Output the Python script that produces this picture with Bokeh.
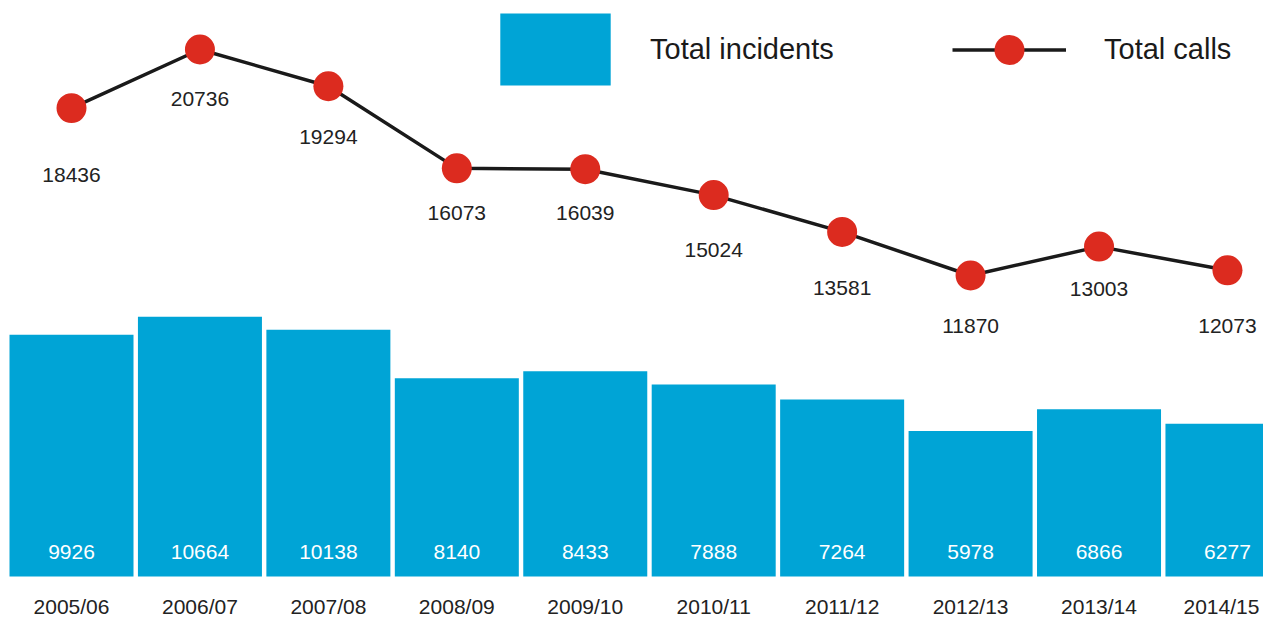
from bokeh.plotting import figure
from bokeh.models import Range1d, Legend, LegendItem, ColumnDataSource
from bokeh.core.properties import value
from bokeh.embed import file_html
from bokeh.resources import INLINE

# ---- data ----
years = ["2005/06", "2006/07", "2007/08", "2008/09", "2009/10",
         "2010/11", "2011/12", "2012/13", "2013/14", "2014/15"]
incidents = [9926, 10664, 10138, 8140, 8433, 7888, 7264, 5978, 6866, 6277]
calls = [18436, 20736, 19294, 16073, 16039, 15024, 13581, 11870, 13003, 12073]

# ---- style: pixel offsets for labels ----
call_label_dy = [67, 50, 51, 45, 44, 55, 56, 51, 42, 56]
year_label_dx = [0, 0, 0, 0, 0, 0, 0, 0, 0, -6]

FONT = value("Liberation Sans")
BLUE = "#00A4D6"
RED = "#DC2B1F"
DARK = "#1A1A1A"
TXT = "#222222"

idx = list(range(len(years)))
src = ColumnDataSource(dict(
    x=idx, year=years, inc=incidents, calls=calls,
    inc_txt=[str(v) for v in incidents],
    calls_txt=[str(v) for v in calls],
    dy=call_label_dy, ydx=year_label_dx,
))

W, H = 1263, 620
yr = Range1d(-1807, 23655)
p = figure(width=W, height=H, output_backend="svg", toolbar_location=None,
           x_range=Range1d(-0.5528, 9.2806), y_range=yr,
           x_axis_location=None, y_axis_location=None,
           min_border=0, outline_line_color=None, tools="")
p.extra_y_ranges = {"calls": Range1d(-1665, 22658)}
p.grid.visible = False
p.background_fill_color = "white"

vb = p.vbar(x="x", top="inc", bottom=0, width=0.9655, source=src,
            fill_color=BLUE, line_color=None)

p.text(x="x", y=0, text="inc_txt", source=src, y_offset=-24,
       text_align="center", text_baseline="middle", text_color="white",
       text_font=FONT, text_font_size="21px")

p.text(x="x", y=yr.start, text="year", source=src, x_offset="ydx",
       y_offset=-14, text_align="center", text_baseline="middle",
       text_color=TXT, text_font=FONT, text_font_size="21px")

ln = p.line(x="x", y="calls", source=src, y_range_name="calls",
            line_color=DARK, line_width=3.5)
sc = p.scatter(x="x", y="calls", source=src, y_range_name="calls",
               size=30, fill_color=RED, line_color=None)

p.text(x="x", y="calls", text="calls_txt", source=src, y_range_name="calls",
       y_offset="dy", text_align="center", text_baseline="middle",
       text_color=TXT, text_font=FONT, text_font_size="21px")

common = dict(padding=0, margin=0, spacing=0, border_line_color=None,
              background_fill_alpha=0, label_text_font="Liberation Sans",
              label_text_font_size="29px", label_text_color=DARK)

leg1 = Legend(items=[LegendItem(label="Total incidents", renderers=[vb])],
              glyph_width=138, glyph_height=90, label_standoff=26,
              location=(486, 526), **common)
leg2 = Legend(items=[LegendItem(label="Total calls", renderers=[ln, sc])],
              glyph_width=114, glyph_height=75, label_standoff=38,
              location=(952, 533), **common)
p.add_layout(leg1)
p.add_layout(leg2)

open("out.html", "w").write(file_html(p, INLINE))
